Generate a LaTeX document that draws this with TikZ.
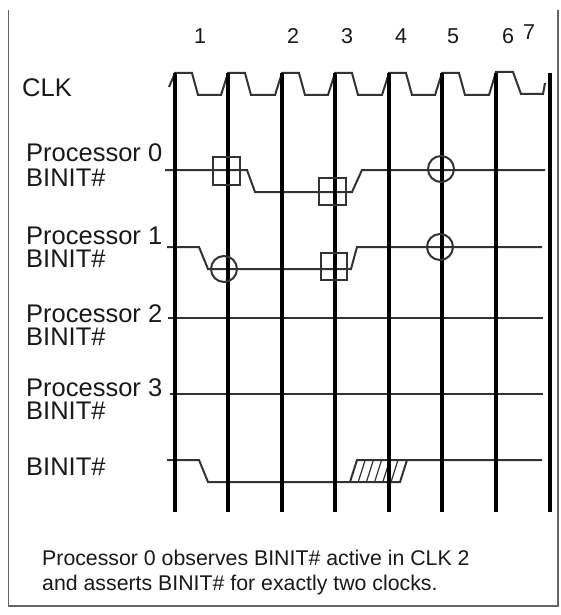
\documentclass[tikz,border=0pt]{standalone}
\usepackage{fontspec}
\setmainfont{Liberation Sans}
\begin{document}
\begin{tikzpicture}[x=1pt,y=-1pt,
  lbl/.style={anchor=base west,inner sep=0pt,text=black!90,font=\fontsize{25.5}{26}\selectfont},
  num/.style={anchor=base,inner sep=0pt,text=black!90,font=\fontsize{21.5}{22}\selectfont},
  captext/.style={anchor=base west,inner sep=0pt,text=black!90,font=\fontsize{21.3}{22}\selectfont},
  clkline/.style={line width=3.3pt,black},
  sig/.style={line width=2pt,black!80,line join=miter},
  marksq/.style={draw=black!80,line width=2pt,rectangle,inner sep=0pt,minimum width=27pt,minimum height=28pt},
  markci/.style={draw=black!80,line width=2pt,circle,inner sep=0pt,minimum size=26pt},
  framestyle/.style={line width=1.5pt,black!60}]
\useasboundingbox (0,0) rectangle (560,615);
\fill[white] (0,0) rectangle (560,615);
% frame
\draw[framestyle] (8.5,10) -- (8.5,606) -- (558,606) -- (558,10);
% clock numbers
\node[num] (n1) at (200,44) {1};
\node[num] (n2) at (293,44) {2};
\node[num] (n3) at (347,44) {3};
\node[num] (n4) at (401,44) {4};
\node[num] (n5) at (453,44) {5};
\node[num] (n6) at (508,44) {6};
\node[num] (n7) at (529,40) {7};
% labels
\node[lbl] (lclk) at (22,97) {CLK};
\node[lbl] (lp0a) at (26,161) {Processor 0};
\node[lbl] (lp0b) at (26,186) {BINIT\#};
\node[lbl] (lp1a) at (26,244) {Processor 1};
\node[lbl] (lp1b) at (26,267) {BINIT\#};
\node[lbl] (lp2a) at (26,322) {Processor 2};
\node[lbl] (lp2b) at (26,345) {BINIT\#};
\node[lbl] (lp3a) at (26,396) {Processor 3};
\node[lbl] (lp3b) at (26,419) {BINIT\#};
\node[lbl] (lb) at (26,475) {BINIT\#};
% caption
\node[captext] (c1) at (42,565) {Processor 0 observes BINIT\# active in CLK 2};
\node[captext] (c2) at (42,590) {and asserts BINIT\# for exactly two clocks.};
% CLK waveform
\draw[sig] (169,87) -- (175,73)
  -- (192,73) -- (198,95) -- (221,95) -- (228,73)
  -- (245,73) -- (251,95) -- (275,95) -- (282,73)
  -- (299,73) -- (305,95) -- (328,95) -- (335,73)
  -- (352,73) -- (358,95) -- (382,95) -- (389,73)
  -- (406,73) -- (412,95) -- (435,95) -- (442,73)
  -- (459,73) -- (465,95) -- (489,95) -- (496,72)
  -- (513,72) -- (521,94) -- (543,94) -- (545,83);
% Processor 0
\draw[sig] (165,170) -- (247,170) -- (255,192) -- (352,192) -- (362,170) -- (545,170);
% Processor 1
\draw[sig] (167,247) -- (199,247) -- (208,269) -- (351,269) -- (357,247) -- (542,247);
% Processor 2, 3
\draw[sig] (168,318) -- (543,318);
\draw[sig] (170,394) -- (543,394);
% BINIT#
\draw[sig] (167,460) -- (199,460) -- (208,482) -- (400,482) -- (407,460);
\draw[sig] (350,482) -- (357,460) -- (542,460);
\foreach \k in {1,...,5}{
  \draw[line width=1.2pt,black!80] ({350+8.2*\k},482) -- ({357+8.2*\k},460);
}
% vertical clock lines
\foreach \xx [count=\i] in {175,228,282,335,389,442,496,550}{
  \draw[clkline] (\xx,73) coordinate (t\i) -- (\xx,512) coordinate (b\i);
}
% markers
\node[marksq] (s1) at (226,170.5) {};
\node[marksq,minimum height=27pt] (s2) at (332.5,191.5) {};
\node[markci] (o1) at (441,169) {};
\node[markci] (o2) at (224,269) {};
\node[marksq,minimum width=26pt,minimum height=27pt] (s3) at (334,266.5) {};
\node[markci] (o3) at (440,247) {};
\end{tikzpicture}
\end{document}
